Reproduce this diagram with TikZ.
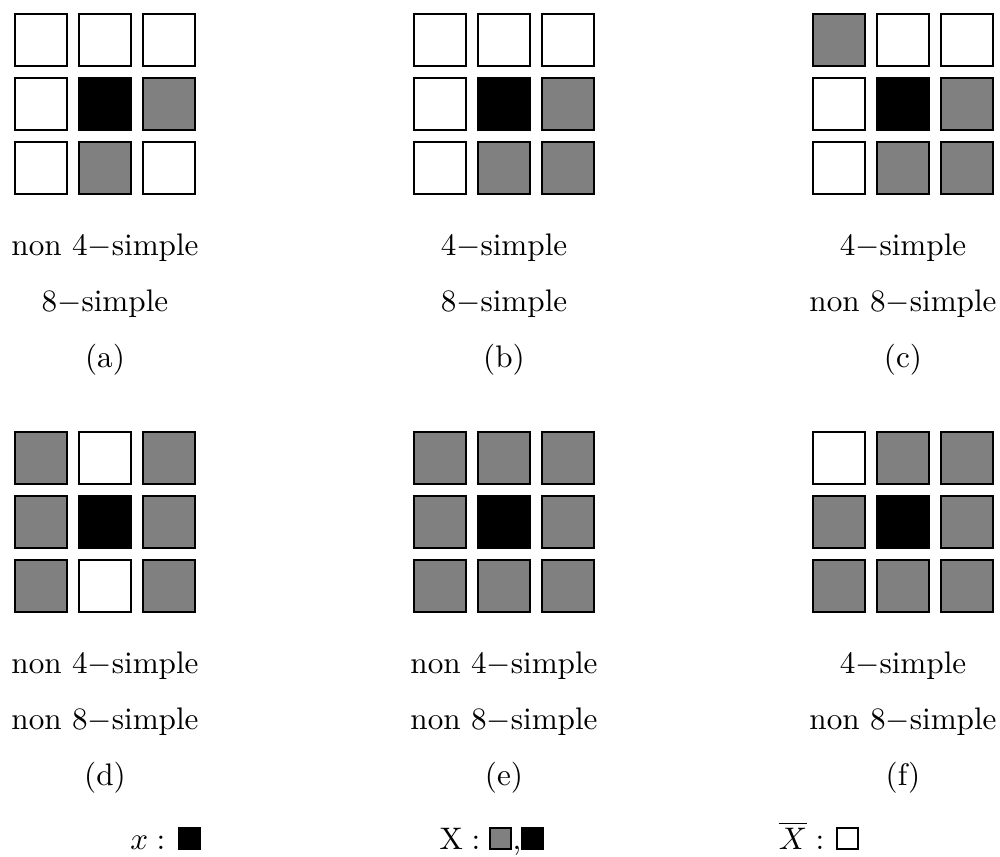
\documentclass[tikz,border=0pt]{standalone}
\begin{document}
\begin{tikzpicture}[x=0.321pt, y=-0.321pt,
  cell/.style={draw, line width=0.6pt, minimum size=16.7pt, inner sep=0pt, outer sep=0pt},
  legsq/.style={draw, line width=0.5pt, minimum size=6.7pt, inner sep=0pt, outer sep=0pt, anchor=south west},
  lab/.style={anchor=base, inner sep=0pt},
  legtxt/.style={anchor=base east, inner sep=0pt}]
\useasboundingbox (0,0) rectangle (1000,856);
\newcommand\cellgrid[4]{%
  \foreach \c [count=\i from 0] in {#4}{%
    \pgfmathtruncatemacro\col{mod(\i,3)}%
    \pgfmathtruncatemacro\row{int(\i/3)}%
    \node[cell, fill=\c] (#1-\row-\col) at (#2-64+64*\col, #3-64+64*\row) {};
  }%
}
% grids
\cellgrid{ga}{105}{104}{white,white,white,white,black,gray,white,gray,white}
\cellgrid{gb}{504}{104}{white,white,white,white,black,gray,white,gray,gray}
\cellgrid{gc}{903}{104}{gray,white,white,white,black,gray,white,gray,gray}
\cellgrid{gd}{105}{522}{gray,white,gray,gray,black,gray,gray,white,gray}
\cellgrid{ge}{504}{522}{gray,gray,gray,gray,black,gray,gray,gray,gray}
\cellgrid{gf}{903}{522}{white,gray,gray,gray,black,gray,gray,gray,gray}
% labels row 1
\node[lab] (ta1) at (105,255) {non $4-$simple};
\node[lab] (ta2) at (105,311) {$8-$simple};
\node[lab] (ta3) at (105,367) {(a)};
\node[lab] (tb1) at (504,255) {$4-$simple};
\node[lab] (tb2) at (504,311) {$8-$simple};
\node[lab] (tb3) at (504,367) {(b)};
\node[lab] (tc1) at (903,255) {$4-$simple};
\node[lab] (tc2) at (903,311) {non $8-$simple};
\node[lab] (tc3) at (903,367) {(c)};
% labels row 2
\node[lab] (td1) at (105,673) {non $4-$simple};
\node[lab] (td2) at (105,729) {non $8-$simple};
\node[lab] (td3) at (105,785) {(d)};
\node[lab] (te1) at (504,673) {non $4-$simple};
\node[lab] (te2) at (504,729) {non $8-$simple};
\node[lab] (te3) at (504,785) {(e)};
\node[lab] (tf1) at (903,673) {$4-$simple};
\node[lab] (tf2) at (903,729) {non $8-$simple};
\node[lab] (tf3) at (903,785) {(f)};
% legend
\node[legtxt] (lx) at (166,849) {$x:$};
\node[legsq, fill=black] (lxs) at (179,849) {};
\node[legtxt] (lX) at (481,849) {$\mathrm{X}:$};
\node[legsq, fill=gray] (lXs1) at (490,849) {};
\node[lab, anchor=base west] (lcomma) at (512,849) {,};
\node[legsq, fill=black] (lXs2) at (522,849) {};
\node[legtxt] (lXb) at (825,849) {$\overline{X}:$};
\node[legsq, fill=white] (lXbs) at (837,849) {};
\end{tikzpicture}
\end{document}
